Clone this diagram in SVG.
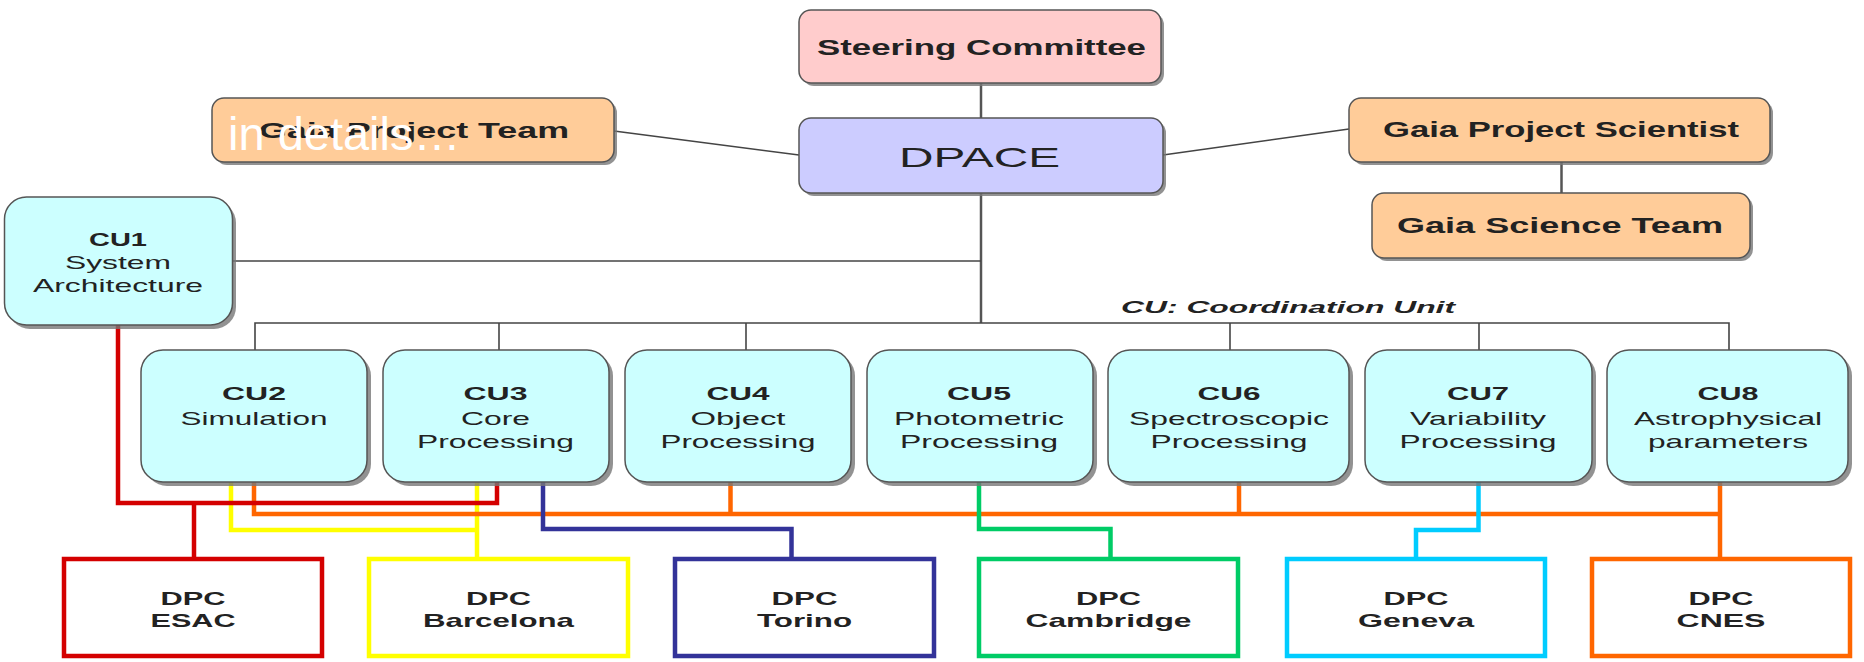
<svg xmlns="http://www.w3.org/2000/svg" width="1864" height="662" viewBox="0 0 1864 662">
<style>
.bg{fill:#fff}
.box{stroke:#555;stroke-width:1.5}
.sh{fill:#777;opacity:0.8}
.pink{fill:#FFCCCC}
.lav{fill:#CCCCFF}
.peach{fill:#FFCC99}
.cyan{fill:#CCFFFF}
.dpc{fill:#fff;stroke-width:4.5}
.t{font-family:"Liberation Sans",Arial,sans-serif;fill:#222;text-anchor:middle}
.tb{font-weight:bold}
.top{font-size:22px}
.cu{font-size:18.5px}
.g1{fill:none;stroke:#555;stroke-width:2.5}
.g2{fill:none;stroke:#444;stroke-width:1.6}
.c{fill:none;stroke-width:4.5}
</style>
<rect class="bg" x="0" y="0" width="1864" height="662"/>

<g id="connectors">
  <line class="g1" x1="981" y1="83" x2="981" y2="118"/>
  <line class="g2" x1="614" y1="131" x2="799" y2="155"/>
  <line class="g2" x1="1163" y1="155" x2="1349" y2="129"/>
  <line class="g1" x1="1561.5" y1="162" x2="1561.5" y2="193"/>
  <line class="g1" x1="981" y1="193" x2="981" y2="323"/>
  <line class="g2" x1="233" y1="261" x2="981" y2="261"/>
  <polyline class="g2" points="255,350 255,323 1729,323 1729,350"/>
  <line class="g2" x1="499" y1="323" x2="499" y2="350"/>
  <line class="g2" x1="746" y1="323" x2="746" y2="350"/>
  <line class="g2" x1="1230" y1="323" x2="1230" y2="350"/>
  <line class="g2" x1="1479" y1="323" x2="1479" y2="350"/>
  <!-- colored -->
  <polyline class="c" stroke="#FFFF00" points="231,482 231,530 477,530"/>
  <line class="c" stroke="#FFFF00" x1="477" y1="482" x2="477" y2="559"/>
  <polyline class="c" stroke="#FF6600" points="254,482 254,514 1720,514"/>
  <line class="c" stroke="#FF6600" x1="730.5" y1="482" x2="730.5" y2="514"/>
  <line class="c" stroke="#FF6600" x1="1239" y1="482" x2="1239" y2="514"/>
  <line class="c" stroke="#FF6600" x1="1720" y1="482" x2="1720" y2="559"/>
  <polyline class="c" stroke="#333399" points="543,482 543,529 791.5,529 791.5,559"/>
  <polyline class="c" stroke="#00CC66" points="979,482 979,529 1110.5,529 1110.5,559"/>
  <polyline class="c" stroke="#00CCFF" points="1478.5,482 1478.5,530 1416,530 1416,559"/>
  <polyline class="c" stroke="#D40000" points="118,325 118,503 497,503 497,482"/>
  <line class="c" stroke="#D40000" x1="194" y1="503" x2="194" y2="559"/>
</g>

<g id="steering">
  <rect class="sh" x="802" y="13" width="362" height="73" rx="12"/>
  <rect class="box pink" x="799" y="10" width="362" height="73" rx="12"/>
  <text class="t tb top" x="981.5" y="55" textLength="329" lengthAdjust="spacingAndGlyphs">Steering Committee</text>
</g>
<g id="dpace">
  <rect class="sh" x="802" y="121" width="364" height="75" rx="12"/>
  <rect class="box lav" x="799" y="118" width="364" height="75" rx="12"/>
  <text class="t" style="font-size:28px" x="979.5" y="167" textLength="161" lengthAdjust="spacingAndGlyphs">DPACE</text>
</g>
<g id="gpt">
  <rect class="sh" x="215" y="101" width="402" height="64" rx="12"/>
  <rect class="box peach" x="212" y="98" width="402" height="64" rx="12"/>
  <text class="t tb top" x="414" y="138" textLength="310" lengthAdjust="spacingAndGlyphs">Gaia Project Team</text>
  <text x="228" y="150" style="font-family:'Liberation Sans',Arial,sans-serif;font-size:47px;fill:#fff">in details…</text>
</g>
<g id="gps">
  <rect class="sh" x="1352" y="101" width="421" height="64" rx="12"/>
  <rect class="box peach" x="1349" y="98" width="421" height="64" rx="12"/>
  <text class="t tb top" x="1561" y="137" textLength="356" lengthAdjust="spacingAndGlyphs">Gaia Project Scientist</text>
</g>
<g id="gst">
  <rect class="sh" x="1375" y="196" width="378" height="65" rx="12"/>
  <rect class="box peach" x="1372" y="193" width="378" height="65" rx="12"/>
  <text class="t tb top" x="1560" y="233" textLength="326" lengthAdjust="spacingAndGlyphs">Gaia Science Team</text>
</g>
<g id="legend">
  <text class="t tb" style="font-size:16px;font-style:italic" x="1288" y="313" textLength="334" lengthAdjust="spacingAndGlyphs">CU: Coordination Unit</text>
</g>

<g id="cu1">
  <rect class="sh" x="8" y="201" width="228" height="128" rx="22"/>
  <rect class="box cyan" x="4.5" y="197" width="228" height="128" rx="22"/>
  <text class="t tb cu" x="118" y="246" textLength="58" lengthAdjust="spacingAndGlyphs">CU1</text>
  <text class="t cu" x="118" y="269" textLength="106" lengthAdjust="spacingAndGlyphs">System</text>
  <text class="t cu" x="118" y="292" textLength="170" lengthAdjust="spacingAndGlyphs">Architecture</text>
</g>
<g id="cu2">
  <rect class="sh" x="145" y="354" width="226" height="132" rx="22"/>
  <rect class="box cyan" x="141" y="350" width="226" height="132" rx="22"/>
  <text class="t tb cu" x="254" y="400" textLength="64" lengthAdjust="spacingAndGlyphs">CU2</text>
  <text class="t cu" x="254" y="425" textLength="147" lengthAdjust="spacingAndGlyphs">Simulation</text>
</g>
<g id="cu3">
  <rect class="sh" x="387" y="354" width="226" height="132" rx="22"/>
  <rect class="box cyan" x="383" y="350" width="226" height="132" rx="22"/>
  <text class="t tb cu" x="495.5" y="400" textLength="64" lengthAdjust="spacingAndGlyphs">CU3</text>
  <text class="t cu" x="495.5" y="425" textLength="69" lengthAdjust="spacingAndGlyphs">Core</text>
  <text class="t cu" x="495.5" y="448" textLength="157" lengthAdjust="spacingAndGlyphs">Processing</text>
</g>
<g id="cu4">
  <rect class="sh" x="629" y="354" width="226" height="132" rx="22"/>
  <rect class="box cyan" x="625" y="350" width="226" height="132" rx="22"/>
  <text class="t tb cu" x="738" y="400" textLength="63" lengthAdjust="spacingAndGlyphs">CU4</text>
  <text class="t cu" x="738" y="425" textLength="95" lengthAdjust="spacingAndGlyphs">Object</text>
  <text class="t cu" x="738" y="448" textLength="155" lengthAdjust="spacingAndGlyphs">Processing</text>
</g>
<g id="cu5">
  <rect class="sh" x="871" y="354" width="226" height="132" rx="22"/>
  <rect class="box cyan" x="867" y="350" width="226" height="132" rx="22"/>
  <text class="t tb cu" x="979" y="400" textLength="64" lengthAdjust="spacingAndGlyphs">CU5</text>
  <text class="t cu" x="979" y="425" textLength="170" lengthAdjust="spacingAndGlyphs">Photometric</text>
  <text class="t cu" x="979" y="448" textLength="158" lengthAdjust="spacingAndGlyphs">Processing</text>
</g>
<g id="cu6">
  <rect class="sh" x="1112" y="354" width="241" height="132" rx="22"/>
  <rect class="box cyan" x="1108" y="350" width="241" height="132" rx="22"/>
  <text class="t tb cu" x="1229" y="400" textLength="63" lengthAdjust="spacingAndGlyphs">CU6</text>
  <text class="t cu" x="1229" y="425" textLength="200" lengthAdjust="spacingAndGlyphs">Spectroscopic</text>
  <text class="t cu" x="1229" y="448" textLength="157" lengthAdjust="spacingAndGlyphs">Processing</text>
</g>
<g id="cu7">
  <rect class="sh" x="1369" y="354" width="227" height="132" rx="22"/>
  <rect class="box cyan" x="1365" y="350" width="227" height="132" rx="22"/>
  <text class="t tb cu" x="1478" y="400" textLength="62" lengthAdjust="spacingAndGlyphs">CU7</text>
  <text class="t cu" x="1478" y="425" textLength="136" lengthAdjust="spacingAndGlyphs">Variability</text>
  <text class="t cu" x="1478" y="448" textLength="157" lengthAdjust="spacingAndGlyphs">Processing</text>
</g>
<g id="cu8">
  <rect class="sh" x="1611" y="354" width="241" height="132" rx="22"/>
  <rect class="box cyan" x="1607" y="350" width="241" height="132" rx="22"/>
  <text class="t tb cu" x="1728" y="400" textLength="61" lengthAdjust="spacingAndGlyphs">CU8</text>
  <text class="t cu" x="1728" y="425" textLength="188" lengthAdjust="spacingAndGlyphs">Astrophysical</text>
  <text class="t cu" x="1728" y="448" textLength="160" lengthAdjust="spacingAndGlyphs">parameters</text>
</g>

<g id="dpc-esac">
  <rect class="dpc" stroke="#D40000" x="64" y="559" width="258" height="97"/>
  <text class="t tb cu" x="193" y="605" textLength="65" lengthAdjust="spacingAndGlyphs">DPC</text>
  <text class="t tb cu" x="193" y="627" textLength="85" lengthAdjust="spacingAndGlyphs">ESAC</text>
</g>
<g id="dpc-barcelona">
  <rect class="dpc" stroke="#FFFF00" x="369" y="559" width="259" height="97"/>
  <text class="t tb cu" x="498.5" y="605" textLength="65" lengthAdjust="spacingAndGlyphs">DPC</text>
  <text class="t tb cu" x="498.5" y="627" textLength="151" lengthAdjust="spacingAndGlyphs">Barcelona</text>
</g>
<g id="dpc-torino">
  <rect class="dpc" stroke="#333399" x="675" y="559" width="259" height="97"/>
  <text class="t tb cu" x="804.5" y="605" textLength="66" lengthAdjust="spacingAndGlyphs">DPC</text>
  <text class="t tb cu" x="804.5" y="627" textLength="95" lengthAdjust="spacingAndGlyphs">Torino</text>
</g>
<g id="dpc-cambridge">
  <rect class="dpc" stroke="#00CC66" x="979" y="559" width="259" height="97"/>
  <text class="t tb cu" x="1108.5" y="605" textLength="65" lengthAdjust="spacingAndGlyphs">DPC</text>
  <text class="t tb cu" x="1108.5" y="627" textLength="166" lengthAdjust="spacingAndGlyphs">Cambridge</text>
</g>
<g id="dpc-geneva">
  <rect class="dpc" stroke="#00CCFF" x="1287" y="559" width="258" height="97"/>
  <text class="t tb cu" x="1416" y="605" textLength="65" lengthAdjust="spacingAndGlyphs">DPC</text>
  <text class="t tb cu" x="1416" y="627" textLength="116" lengthAdjust="spacingAndGlyphs">Geneva</text>
</g>
<g id="dpc-cnes">
  <rect class="dpc" stroke="#FF6600" x="1592" y="559" width="258" height="97"/>
  <text class="t tb cu" x="1721" y="605" textLength="65" lengthAdjust="spacingAndGlyphs">DPC</text>
  <text class="t tb cu" x="1721" y="627" textLength="89" lengthAdjust="spacingAndGlyphs">CNES</text>
</g>
</svg>
